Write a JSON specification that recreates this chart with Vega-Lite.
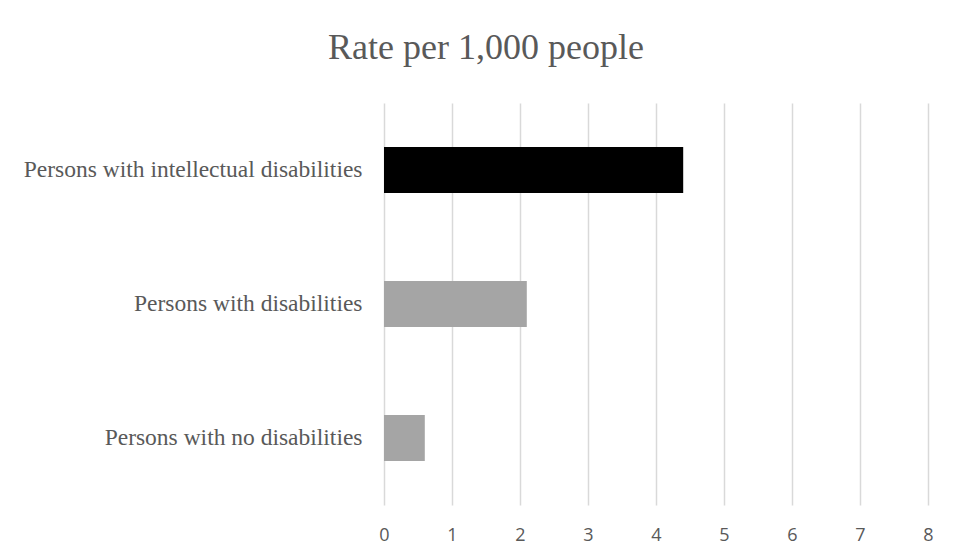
{
  "$schema": "https://vega.github.io/schema/vega-lite/v6.json",
  "autosize": "none",
  "width": 544,
  "height": 402,
  "padding": {"left": 384, "top": 103, "right": 25, "bottom": 52},
  "background": "#ffffff",
  "title": {
    "text": "Rate per 1,000 people",
    "font": "Liberation Serif",
    "fontSize": 36,
    "fontWeight": "normal",
    "color": "#595959",
    "anchor": "middle",
    "baseline": "alphabetic",
    "offset": 8,
    "dx": -170
  },
  "data": {
    "values": [
      {"group": "Persons with intellectual disabilities", "rate": 4.4},
      {"group": "Persons with disabilities", "rate": 2.1},
      {"group": "Persons with no disabilities", "rate": 0.6}
    ]
  },
  "mark": {"type": "bar"},
  "encoding": {
    "y": {
      "field": "group",
      "type": "nominal",
      "sort": null,
      "title": null,
      "scale": {"paddingInner": 0.657, "paddingOuter": 0.3285},
      "axis": {
        "domain": false,
        "ticks": false,
        "grid": false,
        "labelFont": "Liberation Serif",
        "labelFontSize": 23.5,
        "labelColor": "#595959",
        "labelPadding": 22,
        "labelLimit": 500
      }
    },
    "x": {
      "field": "rate",
      "type": "quantitative",
      "title": null,
      "scale": {"domain": [0, 8], "nice": false},
      "axis": {
        "values": [0, 1, 2, 3, 4, 5, 6, 7, 8],
        "domain": false,
        "ticks": false,
        "grid": true,
        "gridColor": "#d9d9d9",
        "gridWidth": 1.5,
        "labelFlush": false,
        "labelFont": "Open Sans",
        "labelFontSize": 18,
        "labelColor": "#595959",
        "labelPadding": 21
      }
    },
    "color": {
      "field": "group",
      "type": "nominal",
      "legend": null,
      "scale": {
        "domain": ["Persons with intellectual disabilities", "Persons with disabilities", "Persons with no disabilities"],
        "range": ["#000000", "#a5a5a5", "#a5a5a5"]
      }
    }
  },
  "config": {"view": {"stroke": null}}
}
